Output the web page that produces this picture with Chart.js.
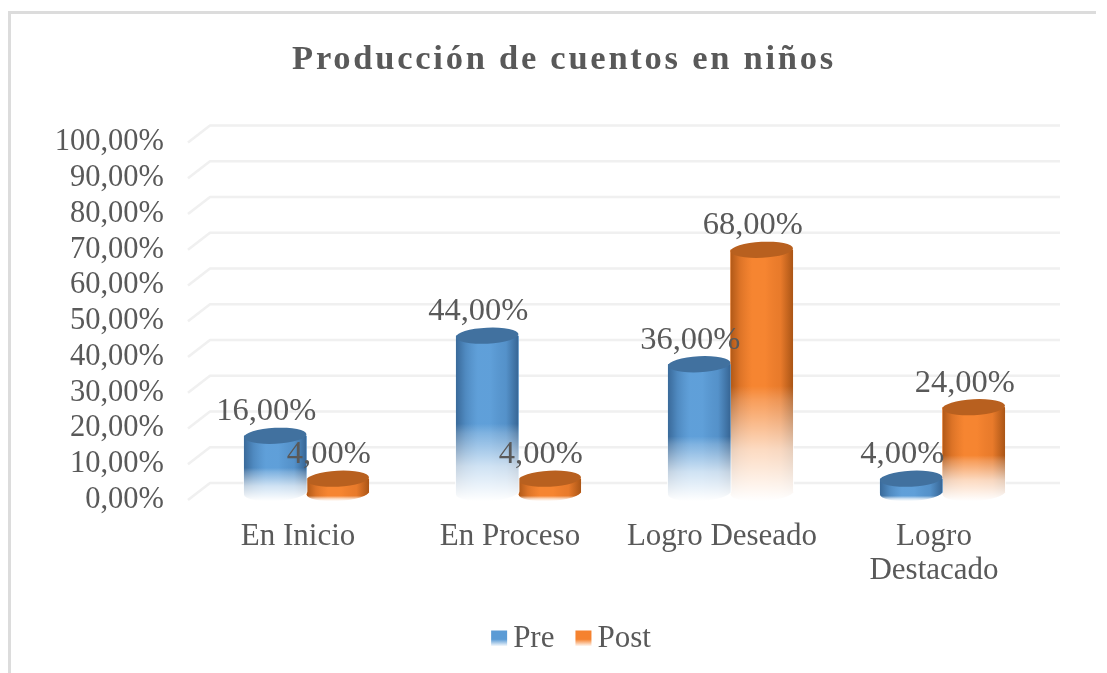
<!DOCTYPE html>
<html><head><meta charset="utf-8">
<style>html,body{margin:0;padding:0;background:#fff}canvas{display:block;filter:blur(0.45px)}</style>
<script src="https://cdn.jsdelivr.net/npm/chart.js@4"></script></head>
<body><canvas id="c" width="1107" height="673"></canvas>
<script>
const categories = ['En Inicio', 'En Proceso', 'Logro Deseado', ['Logro', 'Destacado']];
const preValues = [16, 44, 36, 4];
const postValues = [4, 4, 68, 24];
const seriesNames = ['Pre', 'Post'];
const titleText = 'Producción de cuentos en niños';
const FONT = '"Liberation Serif","Times New Roman",serif';
const TEXT = '#595959';
const pct = v => v.toFixed(2).replace('.', ',') + '%';
const shift = {x: 8.5, y: -7};
const depth = {x: 22, y: -17};
const titleDx = 19, legendDx = 26;
const palette = [
  {body: '#5b9bd5', top: '#41719f', edge: 'rgba(30,65,105,', glow: 'rgba(120,185,240,'},
  {body: '#f5822f', top: '#b8601f', edge: 'rgba(120,55,5,', glow: 'rgba(255,150,60,'}
];
const ctxMain = document.getElementById('c').getContext('2d');
const cylinder = {
  id: 'cylinder',
  beforeDraw(chart) {
    const {ctx, width, height} = chart;
    ctx.save();
    ctx.fillStyle = '#fff'; ctx.fillRect(0, 0, width, height);
    ctx.strokeStyle = '#dcdcdc'; ctx.lineWidth = 3;
    ctx.beginPath(); ctx.moveTo(9.5, height); ctx.lineTo(9.5, 12.5); ctx.lineTo(1096, 12.5); ctx.stroke();
    const y = chart.scales.y, a = chart.chartArea;
    ctx.strokeStyle = '#f0f0f0'; ctx.lineWidth = 2.5; ctx.lineJoin = 'round';
    y.ticks.forEach(t => {
      const p = y.getPixelForValue(t.value);
      ctx.beginPath();
      ctx.moveTo(a.left - 4, p);
      ctx.lineTo(a.left - 4 + depth.x, p + depth.y);
      ctx.lineTo(1060, p + depth.y);
      ctx.stroke();
    });
    ctx.restore();
    const tb = chart.titleBlock, lg = chart.legend;
    if (tb && !tb.__p) {
      const d = tb.draw.bind(tb);
      tb.draw = function () { ctx.save(); ctx.translate(titleDx, 0); ctx.letterSpacing = '2.75px'; d(); ctx.restore(); };
      tb.__p = true;
    }
    if (lg && !lg.__p) {
      const d = lg.draw.bind(lg);
      lg.draw = function () {
        ctx.save(); ctx.translate(legendDx, 0); d();
        lg.legendHitBoxes.forEach((b, i) => {
          const top = b.top + b.height / 2 - 8;
          const g = ctx.createLinearGradient(0, top, 0, top + 16);
          g.addColorStop(0, palette[i].body); g.addColorStop(0.55, palette[i].body); g.addColorStop(1, '#ffffff');
          ctx.fillStyle = g; ctx.fillRect(b.left, top, 16, 16);
        });
        ctx.restore();
      };
      lg.__p = true;
    }
  },
  beforeDatasetDraw(chart) {
    chart.ctx.save();
    chart.ctx.translate(shift.x, shift.y);
  },
  afterDatasetDraw(chart, args) {
    const ctx = chart.ctx, col = palette[args.index];
    args.meta.data.forEach(el => {
      const {x, y, base, width} = el.getProps(['x', 'y', 'base', 'width'], true);
      const l = x - width / 2, r = x + width / 2, rx = width / 2, ry = 8, rot = -0.05;
      const h = base - y;
      const path = g => {
        ctx.beginPath();
        ctx.moveTo(l - g, y);
        ctx.lineTo(l - g, base);
        ctx.ellipse(x, base, rx + g, ry + g, rot, Math.PI, 0, true);
        ctx.lineTo(r + g, y);
        ctx.closePath();
      };
      ctx.save();
      path(0); ctx.fillStyle = col.body; ctx.fill(); ctx.clip();
      const hg = ctx.createLinearGradient(l, 0, r, 0);
      hg.addColorStop(0, col.edge + '0.55)');
      hg.addColorStop(0.15, col.edge + '0.2)');
      hg.addColorStop(0.35, col.glow + '0.15)');
      hg.addColorStop(0.55, col.glow + '0.15)');
      hg.addColorStop(0.8, col.edge + '0.1)');
      hg.addColorStop(1, col.edge + '0.6)');
      ctx.fillStyle = hg; ctx.fillRect(l, y - 2, width, h + ry + 4);
      ctx.restore();
      const fadeTop = h < 20 ? base + 3 : base - h * 0.44;
      const vg = ctx.createLinearGradient(0, fadeTop, 0, base + ry);
      vg.addColorStop(0, 'rgba(255,255,255,0)');
      vg.addColorStop(0.12, 'rgba(255,255,255,0.2)');
      vg.addColorStop(0.55, 'rgba(255,255,255,0.7)');
      vg.addColorStop(1, 'rgba(255,255,255,1)');
      ctx.save();
      path(1); ctx.clip();
      ctx.fillStyle = vg; ctx.fillRect(l - 2, fadeTop, width + 4, base + ry - fadeTop + 2);
      ctx.restore();
      ctx.beginPath();
      ctx.ellipse(x, y, rx, ry, rot, 0, Math.PI * 2);
      ctx.fillStyle = col.top; ctx.fill();
    });
    ctx.restore();
  },
  afterDatasetsDraw(chart) {
    const ctx = chart.ctx;
    ctx.save();
    ctx.font = '32.5px ' + FONT;
    ctx.fillStyle = TEXT; ctx.textAlign = 'center'; ctx.textBaseline = 'middle';
    chart.data.datasets.forEach((ds, i) => {
      chart.getDatasetMeta(i).data.forEach((el, j) => {
        ctx.fillText(pct(ds.data[j]), el.x + shift.x - 9, el.y + shift.y - 24);
      });
    });
    ctx.restore();
  }
};
new Chart(ctxMain, {
  type: 'bar',
  data: {
    labels: categories,
    datasets: [
      {label: seriesNames[0], data: preValues, backgroundColor: palette[0].body, clip: false},
      {label: seriesNames[1], data: postValues, backgroundColor: palette[1].body, clip: false}
    ]
  },
  options: {
    responsive: false, animation: false, devicePixelRatio: 1,
    categoryPercentage: 0.59, barPercentage: 1,
    layout: {padding: {left: 50, right: 67, top: 35, bottom: 9}},
    plugins: {
      title: {display: true, text: titleText, color: TEXT, font: {family: FONT, size: 34.5, weight: 'bold'}, padding: {top: 4, bottom: 62}},
      legend: {
        position: 'bottom',
        labels: {
          font: {family: FONT, size: 31}, color: TEXT, boxWidth: 6.5, boxHeight: 15, padding: 21,
          generateLabels: chart => chart.data.datasets.map((d, i) => ({
            text: d.label, fillStyle: 'rgba(0,0,0,0)', strokeStyle: 'rgba(0,0,0,0)', lineWidth: 0, datasetIndex: i, fontColor: TEXT
          }))
        }
      },
      tooltip: {enabled: false}
    },
    scales: {
      x: {
        grid: {display: false}, border: {display: false},
        afterFit(s) { s.height = 102; },
        ticks: {font: {family: FONT, size: 31, lineHeight: 1.12}, color: TEXT, padding: 11, maxRotation: 0, autoSkip: false}
      },
      y: {
        min: 0, max: 100,
        grid: {display: false, drawTicks: false}, border: {display: false},
        afterFit(s) { s.width = 142; },
        ticks: {stepSize: 10, autoSkip: false, font: {family: FONT, size: 30.5}, color: TEXT, padding: 28, callback: v => pct(v)}
      }
    }
  },
  plugins: [cylinder]
});
</script></body></html>
